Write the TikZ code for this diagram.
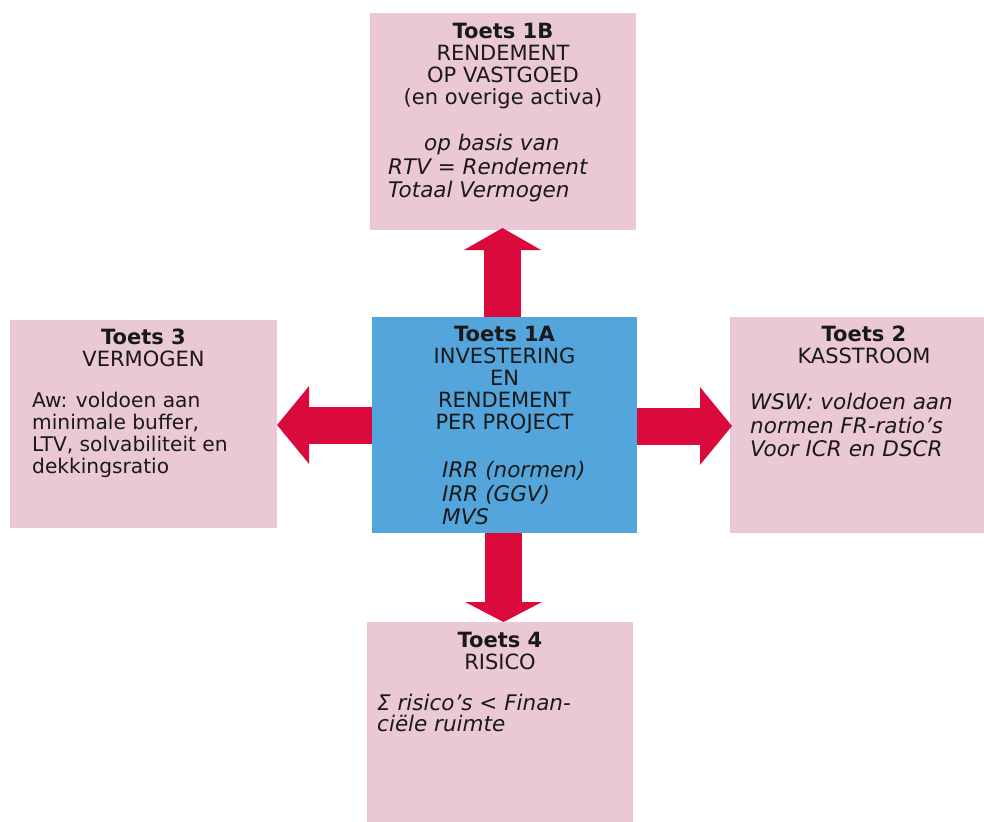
\documentclass[tikz,border=0pt]{standalone}
\usepackage{fontspec}
\setmainfont{DejaVu Sans}
\usetikzlibrary{arrows.meta,calc}
\definecolor{boxpink}{RGB}{235,200,214}
\definecolor{boxblue}{RGB}{84,165,220}
\definecolor{arrowred}{RGB}{218,10,60}
\definecolor{txt}{RGB}{25,25,25}
\begin{document}
\begin{tikzpicture}[x=1pt,y=-1pt,
  box/.style={rectangle, draw=none, inner sep=0pt, outer sep=0pt},
  pinkbox/.style={box, fill=boxpink},
  bluebox/.style={box, fill=boxblue},
  headtext/.style={align=center, font=\fontsize{21}{22}\selectfont, text=txt, inner sep=0pt, anchor=north},
  bodytext/.style={align=left, font=\fontsize{21.5}{23.5}\selectfont\itshape, text=txt, inner sep=0pt, anchor=north west},
  uprighttext/.style={align=left, font=\fontsize{20.2}{22}\selectfont, text=txt, inner sep=0pt, anchor=north west},
  blockarrow/.style={draw=arrowred, line width=37pt, line cap=butt, -{Triangle[width=76pt,length=#1]}}
]
\useasboundingbox (0,0) rectangle (984,821);
\fill[white] (0,0) rectangle (984,821);

% boxes
\node[pinkbox, minimum width=266pt, minimum height=217pt] (t) at (503,121.5) {};
\node[bluebox, minimum width=265pt, minimum height=216pt] (c) at (504.5,425) {};
\node[pinkbox, minimum width=267pt, minimum height=208pt] (l) at (143.5,424) {};
\node[pinkbox, minimum width=268pt, minimum height=216pt] (r) at (864,425) {};
\node[pinkbox, minimum width=266pt, minimum height=216pt] (b) at (500,730) {};

% arrows
\draw[blockarrow=22pt] ([xshift=-2pt]c.north) -- ([xshift=-2pt,yshift=2pt]c.north |- t.south);
\draw[blockarrow=20pt] ([xshift=-1pt]c.south) -- ([xshift=-1pt]c.south |- b.north);
\draw[blockarrow=32pt] ([yshift=-1pt]c.east) -- ([xshift=2pt,yshift=-1pt]c.east -| r.west);
\draw[blockarrow=32pt] (c.west) -- (c.west -| l.east);

% texts
\node[headtext] (th) at (503,23) {\textbf{Toets 1B}\\RENDEMENT\\OP VASTGOED\\(en overige activa)};
\node[bodytext] (tb) at (388,134) {\hspace*{36pt}op basis van\\RTV = Rendement\\Totaal Vermogen};

\node[headtext] (ch) at (504.5,326) {\textbf{Toets 1A}\\INVESTERING\\EN\\RENDEMENT\\PER PROJECT};
\node[bodytext] (cb) at (442,461) {IRR (normen)\\IRR (GGV)\\MVS};

\node[headtext] (lh) at (143.5,329) {\textbf{Toets 3}\\VERMOGEN};
\node[uprighttext] (lb) at (32,392) {Aw: voldoen aan\\minimale buffer,\\LTV, solvabiliteit en\\dekkingsratio};

\node[headtext] (rh) at (864,326) {\textbf{Toets 2}\\KASSTROOM};
\node[bodytext] (rb) at (750,393) {WSW: voldoen aan\\normen FR-ratio’s\\Voor ICR en DSCR};

\node[headtext] (bh) at (500,632) {\textbf{Toets 4}\\RISICO};
\node[bodytext, font=\fontsize{21.5}{21}\selectfont\itshape] (bb) at (377,694) {Σ risico’s < Finan-\\ciële ruimte};
\end{tikzpicture}
\end{document}
